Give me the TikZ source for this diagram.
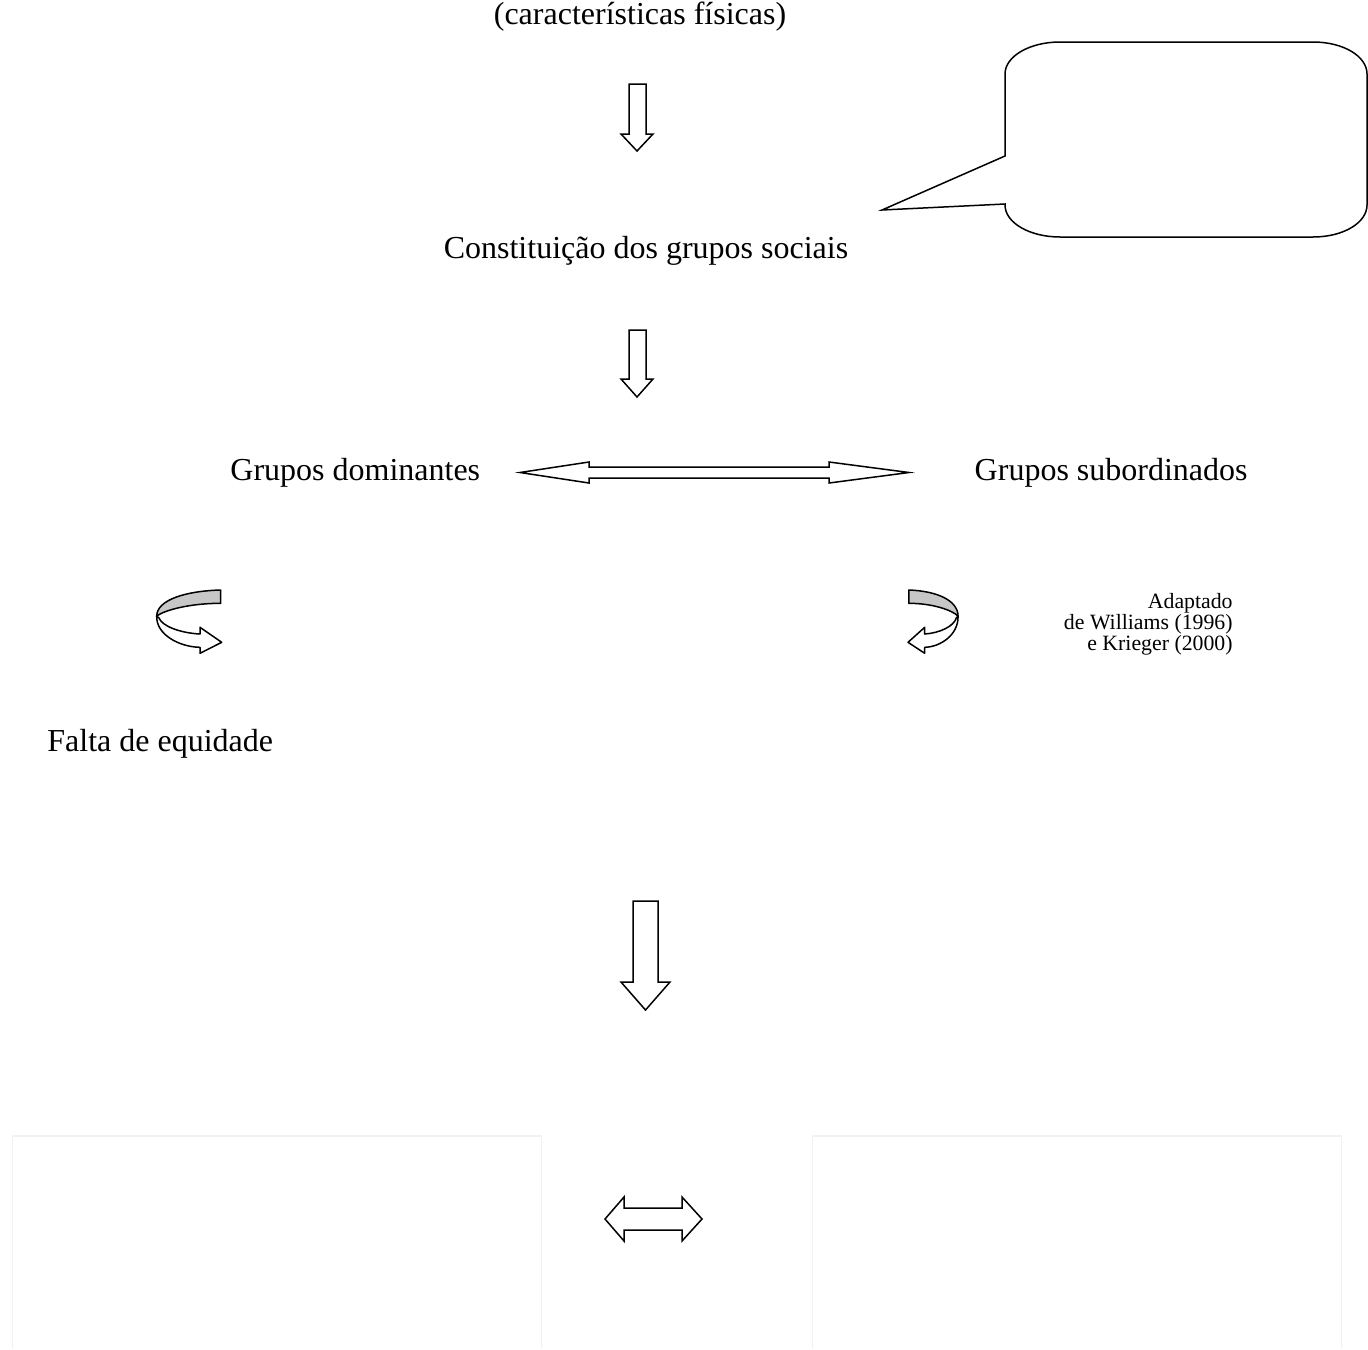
\documentclass[tikz,border=0pt]{standalone}
\usepackage{fontspec}
\setmainfont{Liberation Serif}
\begin{document}
\begin{tikzpicture}[x=0.5pt,y=-0.5pt,
  blk/.style={draw=black,line width=0.75pt,fill=white,line join=miter},
  band/.style={draw=black,line width=0.75pt,fill=black!22,line join=round},
  bigtxt/.style={font=\fontsize{16}{19}\selectfont,inner sep=0pt,anchor=base},
  smalltxt/.style={font=\fontsize{10.9}{10.6}\selectfont,inner sep=0pt,align=right,anchor=north east},
  faintbox/.style={draw=black!5,line width=0.75pt}
]
\useasboundingbox (0,0) rectangle (1368,1349);
\fill[white] (0,0) rectangle (1368,1349);

% texts
\node[bigtxt] (carac) at (640,25) {(características físicas)};
\node[bigtxt] (const) at (646,258) {Constituição dos grupos sociais};
\node[bigtxt,anchor=base west] (dom) at (230,480) {Grupos dominantes};
\node[bigtxt,anchor=base east] (sub) at (1248,480) {Grupos subordinados};
\node[bigtxt,anchor=base west] (falta) at (47,751) {Falta de equidade};
\node[smalltxt] (fonte) at (1233,593) {Adaptado\\de Williams (1996)\\e Krieger (2000)};

% down arrow 1
\draw[blk] (629,84) -- (646,84) -- (646,134) -- (653,134) -- (637,151) -- (621,134) -- (629,134) -- cycle;
% down arrow 2
\draw[blk] (629,330) -- (646,330) -- (646,379) -- (653,379) -- (637,397) -- (621,379) -- (629,379) -- cycle;
% down arrow 3
\draw[blk] (633,901) -- (658,901) -- (658,982) -- (670,982) -- (645.5,1010) -- (621,982) -- (633,982) -- cycle;

% big double arrow
\draw[blk] (520,472.5) -- (589,462) -- (589,467) -- (829,467) -- (829,462) -- (909,472.5)
  -- (829,483) -- (829,478) -- (589,478) -- (589,483) -- cycle;
% small double arrow
\draw[blk] (605,1219) -- (624,1197) -- (624,1208) -- (682,1208) -- (682,1197) -- (702,1219)
  -- (682,1241) -- (682,1230) -- (624,1230) -- (624,1241) -- cycle;

% callout
\draw[blk,line join=miter] (1005,156) -- (1005,74)
  .. controls (1005,56.3) and (1029.6,42) .. (1060,42) -- (1313,42)
  .. controls (1343.4,42) and (1367,56.3) .. (1367,74) -- (1367,205)
  .. controls (1367,222.7) and (1343.4,237) .. (1313,237) -- (1060,237)
  .. controls (1029.6,237) and (1005,222.7) .. (1005,205) -- (1005,204)
  -- (882,210) -- cycle;

% curved arrows
\foreach \sx/\xs in {221.7/1, 908/-0.77} {
\begin{scope}[shift={(\sx,0)},xscale=\xs]
  \draw[blk,line join=round] (-65,616) .. controls (-65.7,635) and (-41.7,647) .. (-21.7,647.3)
    -- (-21.7,653.3) -- (0,642.3) -- (-21.7,627.3) -- (-21.7,634)
    .. controls (-41.7,633) and (-59.7,626) .. (-62.7,618) -- cycle;
  \draw[band] (-1,590) .. controls (-36.7,591) and (-64.7,600) .. (-65,616)
    .. controls (-56.7,610) and (-31.7,603.3) .. (-1,603.3) -- cycle;
\end{scope}
}

% bottom faint boxes
\draw[faintbox] (12.7,1349) -- (12.7,1136) -- (541.7,1136) -- (541.7,1349);
\draw[faintbox] (812.7,1349) -- (812.7,1136) -- (1341.7,1136) -- (1341.7,1349);
\end{tikzpicture}
\end{document}
